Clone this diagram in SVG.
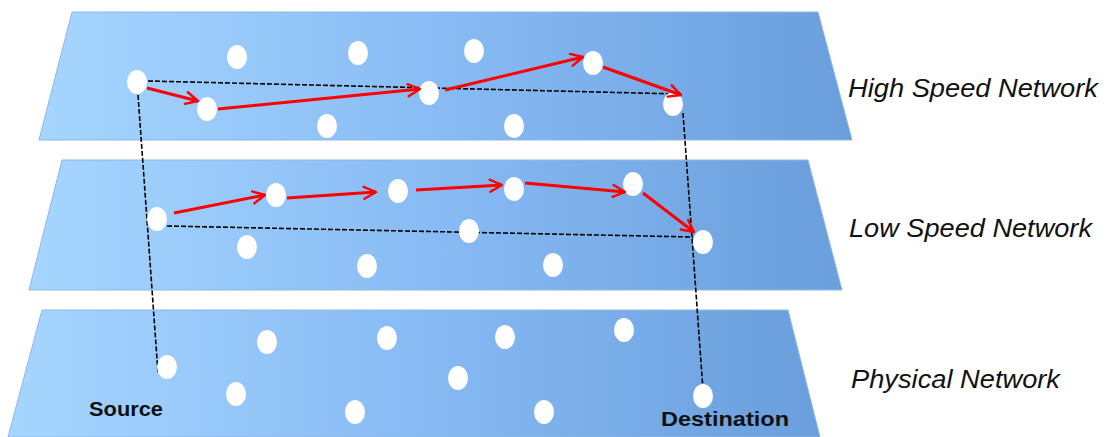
<svg xmlns="http://www.w3.org/2000/svg" width="1109" height="437" viewBox="0 0 1109 437">
<defs>
<linearGradient id="pg" x1="0" y1="0" x2="1" y2="0">
<stop offset="0" stop-color="#a6d6ff"/>
<stop offset="0.5" stop-color="#88bbf4"/>
<stop offset="1" stop-color="#6a9edc"/>
</linearGradient>
<marker id="ah" viewBox="0 0 10 10" refX="9" refY="5" markerWidth="5" markerHeight="5" orient="auto" markerUnits="strokeWidth">
<path d="M1,1 L9,5 L1,9" fill="none" stroke="#ff0000" stroke-width="1.6" stroke-linecap="round" stroke-linejoin="round"/>
</marker>
</defs>
<style>
.plane{fill:url(#pg);stroke:#8fb6e6;stroke-width:1}
.node{fill:#ffffff}
.dash{fill:none;stroke:#000;stroke-width:1.6;stroke-dasharray:5 2}
.arr{fill:none;stroke:#ff0000;stroke-width:3;marker-end:url(#ah)}
.lbl{font-family:"Liberation Sans",Arial,sans-serif;font-style:italic;font-size:26px;fill:#111}
.end{font-family:"Liberation Sans",Arial,sans-serif;font-weight:bold;font-size:21px;fill:#111}
</style>
<g id="planes">
<polygon id="plane-high" class="plane" points="72,12 818,12 852,140 39,140"/>
<polygon id="plane-low" class="plane" points="62,160 808,160 842,290 29,290"/>
<polygon id="plane-physical" class="plane" points="42,310 788,310 820,437 8,437"/>
</g>
<g id="connectors">
<line class="dash" x1="148" y1="81" x2="679" y2="94"/>
<line class="dash" x1="167" y1="226" x2="693" y2="237"/>
<line class="dash" x1="138" y1="95" x2="158" y2="373"/>
<line class="dash" x1="683" y1="113" x2="703" y2="390"/>
</g>
<g id="nodes-high">
<ellipse class="node" cx="137" cy="82" rx="10" ry="12"/>
<ellipse class="node" cx="237" cy="57" rx="10" ry="12"/>
<ellipse class="node" cx="358" cy="53" rx="10" ry="12"/>
<ellipse class="node" cx="207" cy="109" rx="10" ry="12"/>
<ellipse class="node" cx="327" cy="126" rx="10" ry="12"/>
<ellipse class="node" cx="429" cy="93" rx="10" ry="12"/>
<ellipse class="node" cx="474" cy="51" rx="10" ry="12"/>
<ellipse class="node" cx="593" cy="63" rx="10" ry="12"/>
<ellipse class="node" cx="514" cy="126" rx="10" ry="12"/>
<ellipse class="node" cx="673" cy="104" rx="10" ry="12"/>
</g>
<g id="nodes-low">
<ellipse class="node" cx="157" cy="219" rx="10" ry="12"/>
<ellipse class="node" cx="276" cy="195" rx="10" ry="12"/>
<ellipse class="node" cx="398" cy="191" rx="10" ry="12"/>
<ellipse class="node" cx="247" cy="247" rx="10" ry="12"/>
<ellipse class="node" cx="367" cy="266" rx="10" ry="12"/>
<ellipse class="node" cx="514" cy="189" rx="10" ry="12"/>
<ellipse class="node" cx="633" cy="184" rx="10" ry="12"/>
<ellipse class="node" cx="469" cy="231" rx="10" ry="12"/>
<ellipse class="node" cx="553" cy="265" rx="10" ry="12"/>
<ellipse class="node" cx="703" cy="242" rx="10" ry="12"/>
</g>
<g id="nodes-physical">
<ellipse class="node" cx="167" cy="367" rx="10" ry="12"/>
<ellipse class="node" cx="267" cy="342" rx="10" ry="12"/>
<ellipse class="node" cx="387" cy="338" rx="10" ry="12"/>
<ellipse class="node" cx="236" cy="394" rx="10" ry="12"/>
<ellipse class="node" cx="355" cy="412" rx="10" ry="12"/>
<ellipse class="node" cx="505" cy="337" rx="10" ry="12"/>
<ellipse class="node" cx="624" cy="330" rx="10" ry="12"/>
<ellipse class="node" cx="458" cy="378" rx="10" ry="12"/>
<ellipse class="node" cx="544" cy="412" rx="10" ry="12"/>
<ellipse class="node" cx="703" cy="396" rx="10" ry="12"/>
</g>
<g id="arrows">
<line class="arr" x1="147" y1="88" x2="198" y2="101"/>
<line class="arr" x1="218" y1="109" x2="420" y2="89"/>
<line class="arr" x1="445" y1="90" x2="583" y2="57"/>
<line class="arr" x1="603" y1="67" x2="681" y2="95"/>
<line class="arr" x1="174" y1="213" x2="265" y2="195"/>
<line class="arr" x1="287" y1="198" x2="376" y2="192"/>
<line class="arr" x1="416" y1="190" x2="502" y2="185"/>
<line class="arr" x1="525" y1="183" x2="625" y2="192"/>
<line class="arr" x1="643" y1="193" x2="694" y2="232"/>
</g>
<g id="labels">
<text class="lbl" x="848" y="97" textLength="250" lengthAdjust="spacingAndGlyphs">High Speed Network</text>
<text class="lbl" x="849" y="237" textLength="243" lengthAdjust="spacingAndGlyphs">Low Speed Network</text>
<text class="lbl" x="851" y="388" textLength="209" lengthAdjust="spacingAndGlyphs">Physical Network</text>
<text class="end" x="89" y="416" textLength="74" lengthAdjust="spacingAndGlyphs">Source</text>
<text class="end" x="661" y="426" textLength="128" lengthAdjust="spacingAndGlyphs">Destination</text>
</g>
</svg>
